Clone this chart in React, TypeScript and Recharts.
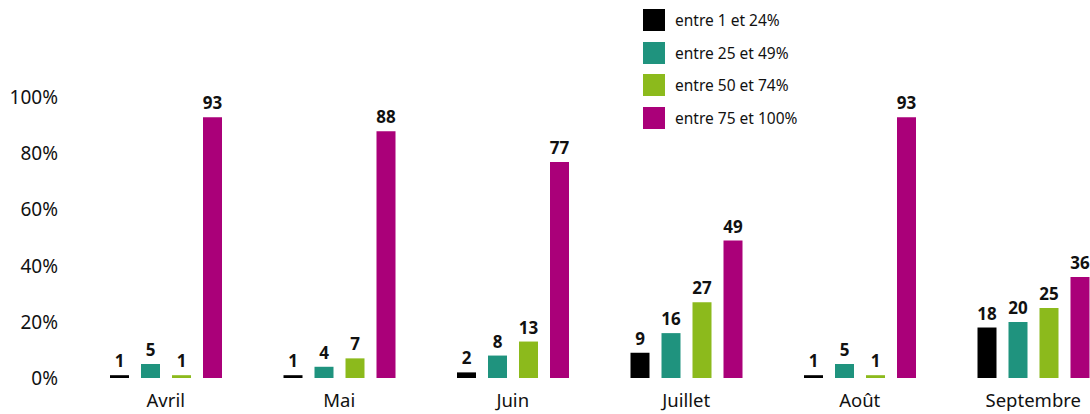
import { BarChart, Bar, XAxis, YAxis, Legend, LabelList } from 'recharts';

const months = ['Avril', 'Mai', 'Juin', 'Juillet', 'Août', 'Septembre'];
const range1 = [1, 1, 2, 9, 1, 18];
const range2 = [5, 4, 8, 16, 5, 20];
const range3 = [1, 7, 13, 27, 1, 25];
const range4 = [93, 88, 77, 49, 93, 36];
const yTicks = [0, 20, 40, 60, 80, 100];

const seriesInfo = [
  { key: 'r1', name: 'entre 1 et 24%', color: '#000000' },
  { key: 'r2', name: 'entre 25 et 49%', color: '#1f937e' },
  { key: 'r3', name: 'entre 50 et 74%', color: '#8cba1c' },
  { key: 'r4', name: 'entre 75 et 100%', color: '#aa0079' },
];

const data = months.map((m, i) => ({
  month: m,
  r1: range1[i],
  r2: range2[i],
  r3: range3[i],
  r4: range4[i],
}));

const font = '"Noto Sans", sans-serif';

const LegendBox = () => (
  <div style={{ display: 'flex', flexDirection: 'column', gap: 10.5 }}>
    {seriesInfo.map((s) => (
      <div key={s.key} style={{ display: 'flex', alignItems: 'center', height: 22 }}>
        <span style={{ width: 22, height: 22, background: s.color, display: 'inline-block' }} />
        <span style={{ marginLeft: 10, fontSize: 15.5, color: '#111', fontFamily: font }}>{s.name}</span>
      </div>
    ))}
  </div>
);

export default function App() {
  return (
    <div
      style={{
        position: 'fixed',
        top: 0,
        left: 0,
        width: 1090,
        height: 414,
        overflow: 'hidden',
        background: '#fff',
      }}
    >
      <BarChart
        width={1120}
        height={414}
        data={data}
        margin={{ top: 97.5, right: 0, left: 0, bottom: 0 }}
        barSize={19}
        barGap={12}
        style={{ fontFamily: font }}
      >
        <XAxis
          dataKey="month"
          axisLine={false}
          tickLine={false}
          tickSize={0}
          tickMargin={16}
          height={36}
          interval={0}
          tick={{ fontSize: 18.5, fill: '#111' }}
        />
        <YAxis
          domain={[0, 100]}
          ticks={yTicks}
          tickFormatter={(v) => `${v}%`}
          axisLine={false}
          tickLine={false}
          tickSize={0}
          tickMargin={21}
          width={79}
          tick={{ fontSize: 19, fill: '#111' }}
        />
        <Legend
          layout="horizontal"
          verticalAlign="middle"
          align="center"
          content={<LegendBox />}
          wrapperStyle={{ top: 9, left: 643, width: 220, height: 125 }}
        />
        {seriesInfo.map((s) => (
          <Bar key={s.key} dataKey={s.key} name={s.name} fill={s.color} isAnimationActive={false}>
            <LabelList
              dataKey={s.key}
              position="top"
              offset={8}
              style={{ fontSize: 17, fontWeight: 700, fill: '#111' }}
            />
          </Bar>
        ))}
      </BarChart>
    </div>
  );
}
